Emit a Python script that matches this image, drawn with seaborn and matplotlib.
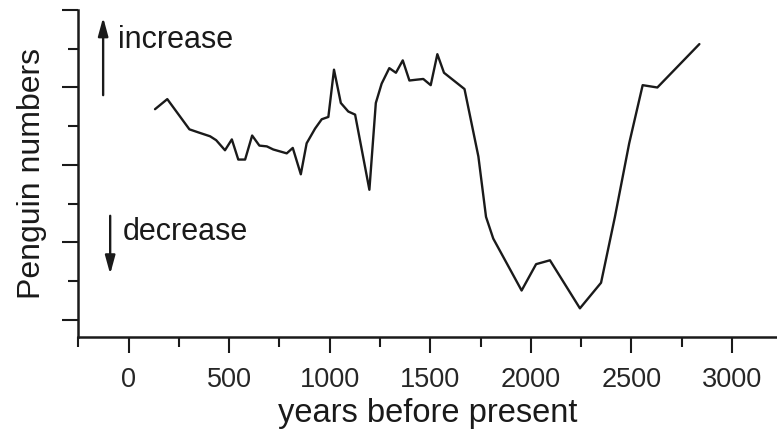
import numpy as np
import pandas as pd
import matplotlib
matplotlib.use("Agg")
import matplotlib.pyplot as plt
from matplotlib.ticker import MultipleLocator
import seaborn as sns

years = [131, 192, 302, 347, 405, 435, 479, 513, 545, 579, 614, 650, 687, 719,
         786, 816, 856, 885, 927, 960, 993, 1021, 1055, 1092, 1126, 1197, 1229,
         1258, 1296, 1329, 1363, 1396, 1429, 1465, 1502, 1535, 1568, 1670, 1739,
         1777, 1813, 1954, 2026, 2095, 2244, 2349, 2418, 2489, 2556, 2629, 2838]
penguins = [2.72, 2.85, 2.46, 2.42, 2.37, 2.32, 2.19, 2.33, 2.07, 2.07, 2.38,
            2.25, 2.24, 2.20, 2.15, 2.22, 1.88, 2.28, 2.47, 2.59, 2.62, 3.23,
            2.80, 2.69, 2.65, 1.68, 2.80, 3.05, 3.25, 3.19, 3.35, 3.09, 3.10,
            3.11, 3.03, 3.43, 3.19, 2.98, 2.11, 1.33, 1.05, 0.38, 0.72, 0.77,
            0.15, 0.48, 1.33, 2.28, 3.03, 3.00, 3.56]
xticks = [0, 500, 1000, 1500, 2000, 2500, 3000]
xlabel = "years before present"
ylabel = "Penguin numbers"
up_text = "increase"
down_text = "decrease"

df = pd.DataFrame({"years": years, "penguins": penguins})

sns.set_style("ticks")
plt.rcParams["font.family"] = ["Liberation Sans", "DejaVu Sans"]

fig = plt.figure(figsize=(7.77, 4.36), dpi=100)
ax = fig.add_axes([78 / 777, (436 - 337) / 436, 1 - 78 / 777, (337 - 10) / 436])

sns.lineplot(data=df, x="years", y="penguins", ax=ax, color="#1a1a1a",
             linewidth=1.7, sort=False)

ax.set_xlim(-252, 3224)
ax.set_ylim(-0.22, 4.0)
ax.set_xticks(xticks)
ax.set_xticklabels([str(t) for t in xticks], fontsize=19.5)
ax.xaxis.set_minor_locator(MultipleLocator(250))
ax.set_yticks([0, 1, 2, 3, 4])
ax.set_yticklabels([])
ax.yaxis.set_minor_locator(MultipleLocator(0.5))

ax.tick_params(axis="both", which="major", length=11.5, width=1.5,
               color="#1a1a1a", direction="out", pad=10)
ax.tick_params(axis="both", which="minor", length=7, width=1.5,
               color="#1a1a1a", direction="out")

for s in ["top", "right"]:
    ax.spines[s].set_visible(False)
for s in ["left", "bottom"]:
    ax.spines[s].set_linewidth(1.8)
    ax.spines[s].set_color("#1a1a1a")

ax.set_xlabel(xlabel, fontsize=23.5, labelpad=4, color="#1a1a1a")
ax.set_ylabel(ylabel, fontsize=23, labelpad=1, color="#1a1a1a")

ax.annotate("", xy=(-127, 3.94), xytext=(-127, 2.865),
            arrowprops=dict(arrowstyle="-|>,head_length=1.1,head_width=0.3",
                            color="#1a1a1a", lw=1.7))
ax.annotate("", xy=(-92, 0.555), xytext=(-92, 1.38),
            arrowprops=dict(arrowstyle="-|>,head_length=1.1,head_width=0.3",
                            color="#1a1a1a", lw=1.7))
ax.text(-53, 3.61, up_text, fontsize=22, va="center", ha="left", color="#1a1a1a")
ax.text(-28, 1.135, down_text, fontsize=22, va="center", ha="left", color="#1a1a1a")

fig.savefig("out.png", dpi=100)
